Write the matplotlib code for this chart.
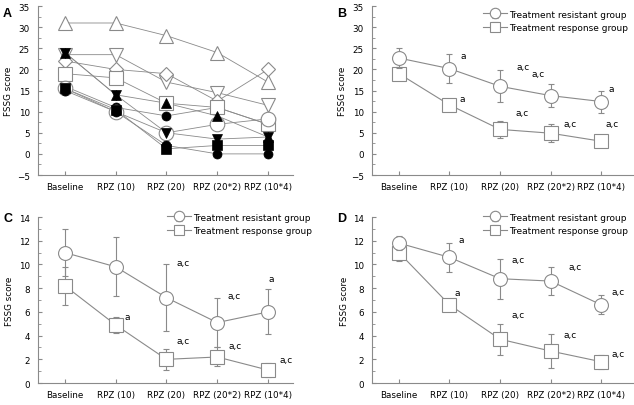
import matplotlib
matplotlib.use("Agg")
import matplotlib.pyplot as plt
import numpy as np

plt.rcParams['font.family'] = ['DejaVu Sans']
plt.rcParams['font.size'] = 6

# ---------------- data ----------------
categories = ["Baseline", "RPZ (10)", "RPZ (20)", "RPZ (20*2)", "RPZ (10*4)"]

# Panel A: individual patients
a_tri_up_open = [31, 31, 28, 24, 17]
a_tri_down_open = [23.5, 23.5, 17, 14.5, 11.5]
a_diamond_open = [22, 20, 19, 12.5, 20]
a_square_open = [19, 18, 12, 11, 7]
a_tri_up_filled = [24, 14, 12, 9, 4]
a_tri_down_filled = [24, 14, 5, 3.5, 4]
a_circle_filled1 = [16, 11, 9, 11, 7]
a_circle_open = [15.5, 10, 5, 7, 8.3]
a_square_filled = [15.5, 10.5, 1.2, 2, 2]
a_circle_filled2 = [15, 10, 2, 0, 0]

# Panel B
b_resist_mean = [22.7, 20.2, 16.0, 13.8, 12.4]
b_resist_err = [2.3, 3.4, 3.8, 2.8, 2.6]
b_resp_mean = [19.0, 11.6, 5.8, 4.9, 3.0]
b_resp_err = [1.5, 0.6, 2.0, 2.2, 0.5]
b_resist_labels = ["", "a", "a,c", "a,c", "a"]
b_resist_label_y = [None, 23.3, 20.6, 19.1, 15.6]
b_resp_labels = ["", "a", "a,c", "a,c", "a,c"]
b_resp_label_y = [None, 13.1, 9.9, 7.3, 7.3]

# Panel C
c_resist_mean = [11.0, 9.8, 7.2, 5.1, 6.0]
c_resist_err = [2.0, 2.5, 2.8, 2.05, 1.9]
c_resp_mean = [8.2, 4.9, 2.0, 2.2, 1.1]
c_resp_err = [1.6, 0.7, 0.9, 0.8, 0.6]
c_resist_labels = ["", "", "a,c", "a,c", "a"]
c_resist_label_y = [None, None, 10.2, 7.4, 8.8]
c_resp_labels = ["", "a", "a,c", "a,c", "a,c"]
c_resp_label_y = [None, 5.6, 3.6, 3.15, 1.95]

# Panel D
d_resist_mean = [11.8, 10.6, 8.8, 8.6, 6.6]
d_resist_err = [0.6, 1.2, 1.7, 1.2, 0.8]
d_resp_mean = [11.0, 6.6, 3.7, 2.7, 1.8]
d_resp_err = [0.7, 0.3, 1.3, 1.4, 0.6]
d_resist_labels = ["", "a", "a,c", "a,c", "a,c"]
d_resist_label_y = [None, 12.1, 10.45, 9.8, 7.7]
d_resp_labels = ["", "a", "a,c", "a,c", "a,c"]
d_resp_label_y = [None, 7.6, 5.8, 4.1, 2.5]

legend_labels = ["Treatment resistant group", "Treatment response group"]

GRAY = "#8a8a8a"
x = np.arange(len(categories))

fig = plt.figure(figsize=(6.34, 4.06), dpi=100)
axA = fig.add_axes([0.060, 0.5665, 0.402, 0.416])
axB = fig.add_axes([0.587, 0.5665, 0.413, 0.416])
axC = fig.add_axes([0.060, 0.054, 0.402, 0.409])
axD = fig.add_axes([0.587, 0.054, 0.413, 0.409])


def style(ax, ylim, major, minor, xmax):
    ax.set_xlim(-0.53, xmax)
    ax.set_ylim(*ylim)
    for s in ["top", "right"]:
        ax.spines[s].set_visible(False)
    for s in ["left", "bottom"]:
        ax.spines[s].set_color(GRAY)
        ax.spines[s].set_linewidth(0.8)
    ax.set_xticks(x)
    ax.set_xticklabels(categories)
    ax.set_yticks(np.arange(ylim[0], ylim[1] + 0.01, major))
    ax.set_yticks(np.arange(ylim[0], ylim[1] + 0.01, minor), minor=True)
    ax.tick_params(axis="both", which="both", direction="in", color=GRAY,
                   labelsize=6.3)
    ax.tick_params(axis="y", which="major", length=3, pad=6)
    ax.tick_params(axis="y", which="minor", length=2)
    ax.tick_params(axis="x", which="major", length=3, pad=5)
    ax.set_ylabel("FSSG score", fontsize=6.3, labelpad=3)


style(axA, (-5, 35), 5, 2.5, 4.49)
style(axB, (-5, 35), 5, 2.5, 4.65)
style(axC, (0, 14), 2, 1, 4.49)
style(axD, (0, 14), 2, 1, 4.65)

# ---- Panel A ----
open_series = [
    (a_tri_up_open, "^"), (a_tri_down_open, "v"), (a_diamond_open, "D"),
    (a_square_open, "s"), (a_circle_open, "o"),
]
filled_top = [
    (a_tri_up_filled, "^"), (a_tri_down_filled, "v"),
    (a_square_filled, "s"), (a_circle_filled2, "o"),
]
filled_below = [(a_circle_filled1, "o")]
for vals, m in filled_top + filled_below + open_series:
    axA.plot(x, vals, color=GRAY, lw=0.6, zorder=1)
for vals, m in filled_below:
    axA.plot(x, vals, ls="none", marker=m, ms=6.5, mfc="black", mec="black",
             mew=0.5, zorder=1.5)
for vals, m in open_series:
    ms = 7.5 if m == "D" else 10.5
    axA.plot(x, vals, ls="none", marker=m, ms=ms, mfc="white", mec=GRAY,
             mew=0.8, zorder=2)
for vals, m in filled_top:
    axA.plot(x, vals, ls="none", marker=m, ms=6.5, mfc="black", mec="black",
             mew=0.5, zorder=3)


def group_panel(ax, rm, re, pm, pe, rl, rly, pl, ply, rdx, pdx, legend_anchor):
    ax.errorbar(x, pm, yerr=pe, color=GRAY, lw=0.8, elinewidth=0.8,
                capsize=2.5, capthick=0.8, marker="s", ms=9.5, mfc="white",
                mec=GRAY, mew=0.8, zorder=2, label=legend_labels[1])
    ax.errorbar(x, rm, yerr=re, color=GRAY, lw=0.8, elinewidth=0.8,
                capsize=2.5, capthick=0.8, marker="o", ms=10, mfc="white",
                mec=GRAY, mew=0.8, zorder=3, label=legend_labels[0])
    for xi, (t, yy, d) in enumerate(zip(rl, rly, rdx)):
        if t:
            ax.text(xi + d, yy, t, fontsize=6.5, ha="left", va="center")
    for xi, (t, yy, d) in enumerate(zip(pl, ply, pdx)):
        if t:
            ax.text(xi + d, yy, t, fontsize=6.5, ha="left", va="center")
    h, l = ax.get_legend_handles_labels()
    ax.legend(h[::-1], l[::-1], loc="upper right",
              bbox_to_anchor=legend_anchor, bbox_transform=fig.transFigure,
              frameon=False, fontsize=6.5, handlelength=2.6, markerscale=0.75,
              handletextpad=0.3, labelspacing=0.5, borderpad=0)


group_panel(axB, b_resist_mean, b_resist_err, b_resp_mean, b_resp_err,
            b_resist_labels, b_resist_label_y, b_resp_labels, b_resp_label_y,
            [0, 0.22, 0.32, -0.37, 0.14], [0, 0.2, 0.3, 0.26, 0.08],
            (0.998, 0.985))
group_panel(axC, c_resist_mean, c_resist_err, c_resp_mean, c_resp_err,
            c_resist_labels, c_resist_label_y, c_resp_labels, c_resp_label_y,
            [0, 0.2, 0.2, 0.2, 0.0], [0, 0.17, 0.2, 0.22, 0.22],
            (0.50, 0.485))
group_panel(axD, d_resist_mean, d_resist_err, d_resp_mean, d_resp_err,
            d_resist_labels, d_resist_label_y, d_resp_labels, d_resp_label_y,
            [0, 0.18, 0.22, 0.35, 0.2], [0, 0.1, 0.22, 0.25, 0.2],
            (0.998, 0.485))

# panel letters
for lab, (px, py) in zip("ABCD", [(0.005, 0.98), (0.531, 0.98),
                                  (0.005, 0.475), (0.531, 0.475)]):
    fig.text(px, py, lab, fontsize=9, fontweight="bold",
             family=["Liberation Sans", "DejaVu Sans"], va="top", ha="left")

fig.savefig("out.png", dpi=100)
